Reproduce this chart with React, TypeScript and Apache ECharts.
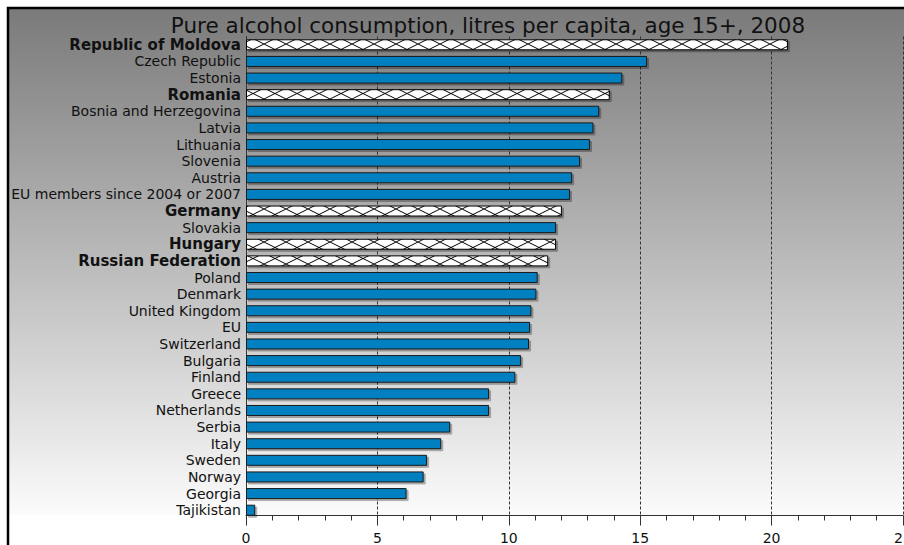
import React, { useEffect, useRef } from "react";
import * as echarts from "echarts";

const categories: string[] = [
  "Republic of Moldova",
  "Czech Republic",
  "Estonia",
  "Romania",
  "Bosnia and Herzegovina",
  "Latvia",
  "Lithuania",
  "Slovenia",
  "Austria",
  "EU members since 2004 or 2007",
  "Germany",
  "Slovakia",
  "Hungary",
  "Russian Federation",
  "Poland",
  "Denmark",
  "United Kingdom",
  "EU",
  "Switzerland",
  "Bulgaria",
  "Finland",
  "Greece",
  "Netherlands",
  "Serbia",
  "Italy",
  "Sweden",
  "Norway",
  "Georgia",
  "Tajikistan",
];

const values: number[] = [
  20.62, 15.26, 14.32, 13.84, 13.44, 13.22, 13.09, 12.71, 12.41, 12.33, 12.02,
  11.8, 11.8, 11.5, 11.1, 11.05, 10.86, 10.81, 10.77, 10.47, 10.25, 9.25, 9.25,
  7.77, 7.43, 6.89, 6.76, 6.11, 0.35,
];

const highlighted: string[] = [
  "Republic of Moldova",
  "Romania",
  "Germany",
  "Hungary",
  "Russian Federation",
];

const xTicks: number[] = [0, 5, 10, 15, 20, 25];

const TITLE = "Pure alcohol consumption, litres per capita, age 15+, 2008";

const GRID_TOP = 36.5;
const GRID_HEIGHT = 482;
const BAR_W = 11;
const TILE_W = 22;
const TILE_H = 11;

function makeTile(): HTMLCanvasElement {
  const c = document.createElement("canvas");
  c.width = TILE_W;
  c.height = TILE_H;
  const ctx = c.getContext("2d")!;
  ctx.fillStyle = "#ffffff";
  ctx.fillRect(0, 0, TILE_W, TILE_H);
  ctx.strokeStyle = "#000000";
  ctx.lineWidth = 1;
  ctx.beginPath();
  ctx.moveTo(0, 0);
  ctx.lineTo(TILE_W, TILE_H);
  ctx.moveTo(0, TILE_H);
  ctx.lineTo(TILE_W, 0);
  ctx.stroke();
  return c;
}

export default function App() {
  const ref = useRef<HTMLDivElement>(null);

  useEffect(() => {
    if (!ref.current) return;
    const chart = echarts.init(ref.current, undefined, { renderer: "svg" });
    const tile = makeTile();
    const band = GRID_HEIGHT / categories.length;

    const data = categories.map((name, i) => {
      const v = values[i];
      if (highlighted.includes(name)) {
        const barTop = GRID_TOP + band * (i + 0.5) - BAR_W / 2;
        return {
          value: v,
          itemStyle: {
            color: {
              image: tile,
              repeat: "repeat",
              imageWidth: TILE_W,
              imageHeight: TILE_H,
              x: 246,
              y: barTop,
            },
            borderColor: "#000000",
            borderWidth: 1,
          },
        };
      }
      return { value: v };
    });

    chart.setOption({
      animation: false,
      graphic: [
        {
          type: "rect",
          z: -10,
          silent: true,
          shape: { x: 8, y: 8, width: 1000, height: 515 - 8 },
          style: {
            fill: {
              type: "linear",
              x: 0,
              y: 0,
              x2: 0,
              y2: 1,
              colorStops: [
                { offset: 0, color: "#7a7a7a" },
                { offset: 1, color: "#fbfbfb" },
              ],
            },
          },
        },
        {
          type: "rect",
          z: 100,
          silent: true,
          shape: { x: 8, y: 8, width: 1000, height: 1000 },
          style: { fill: "none", stroke: "#000000", lineWidth: 2.5 },
        },
      ],
      title: {
        text: TITLE,
        left: 483,
        top: 9,
        textAlign: "center",
        textStyle: {
          fontFamily: "DejaVu Sans",
          fontSize: 21.5,
          fontWeight: "normal",
          color: "#111111",
        },
      },
      grid: {
        left: 246,
        right: 1,
        top: GRID_TOP,
        height: GRID_HEIGHT,
        containLabel: false,
        outerBoundsMode: "none",
      },
      xAxis: {
        type: "value",
        min: xTicks[0],
        max: xTicks[xTicks.length - 1],
        interval: xTicks[1] - xTicks[0],
        offset: -3,
        axisLine: { show: true, lineStyle: { color: "#333333", width: 1 } },
        axisTick: { show: true, length: 10, lineStyle: { color: "#333333" } },
        minorTick: {
          show: true,
          splitNumber: 5,
          length: 5,
          lineStyle: { color: "#333333" },
        },
        axisLabel: {
          fontFamily: "DejaVu Sans",
          fontSize: 14,
          color: "#111111",
          margin: 15,
          showMaxLabel: true,
          hideOverlap: false,
        },
        splitLine: {
          show: true,
          lineStyle: { color: "#333333", type: [3, 2], width: 1 },
        },
      },
      yAxis: {
        type: "category",
        inverse: true,
        data: categories,
        axisLine: { show: true, lineStyle: { color: "#333333", width: 1 } },
        axisTick: { show: false },
        axisLabel: {
          margin: 5,
          interval: 0,
          fontFamily: "DejaVu Sans",
          fontSize: 14,
          color: "#111111",
          formatter: (val: string) =>
            highlighted.includes(val) ? `{b|${val}}` : `{n|${val}}`,
          rich: {
            n: {
              fontFamily: "DejaVu Sans",
              fontSize: 14,
              color: "#111111",
            },
            b: {
              fontFamily: "DejaVu Sans",
              fontSize: 15,
              fontWeight: "bold",
              color: "#111111",
            },
          },
        },
      },
      series: [
        {
          type: "bar",
          data,
          barWidth: BAR_W,
          itemStyle: {
            color: "#0080c0",
            borderColor: "#1a1a1a",
            borderWidth: 1,
            shadowColor: "rgba(0,0,0,0.3)",
            shadowOffsetX: 2,
            shadowOffsetY: 2,
            shadowBlur: 1,
          },
        },
      ],
    });

    return () => chart.dispose();
  }, []);

  return (
    <div
      ref={ref}
      style={{
        position: "absolute",
        left: 0,
        top: 0,
        width: 904,
        height: 545,
      }}
    />
  );
}
